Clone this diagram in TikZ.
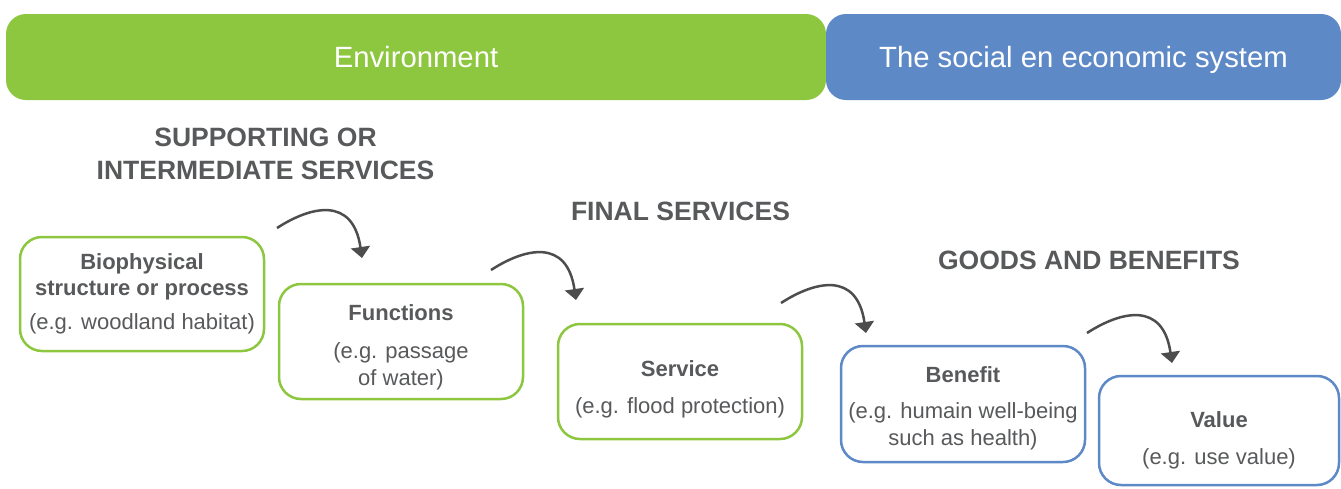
\documentclass[tikz,border=0pt]{standalone}
\usepackage{fontspec}
\setmainfont{Liberation Sans}
\usetikzlibrary{arrows.meta}
\definecolor{envgreen}{HTML}{8DC63F}
\definecolor{socblue}{HTML}{5D89C7}
\definecolor{txtgray}{HTML}{58595B}
\definecolor{arrgray}{HTML}{4D4D4D}
\begin{document}
\begin{tikzpicture}[x=1pt,y=-1pt,
  banner/.style={rounded corners=20pt, text=white, font=\fontsize{29.3}{34}\selectfont, inner sep=0pt, minimum height=86pt, text height=21pt, text depth=0pt},
  heading/.style={text=txtgray, font=\bfseries\fontsize{26.5}{33}\selectfont, align=center, inner sep=0pt},
  box/.style={draw, line width=2.5pt, rounded corners=22pt, fill=white, text=txtgray, align=center, font=\fontsize{22}{27}\selectfont, inner sep=0pt},
  greenbox/.style={box, draw=envgreen},
  bluebox/.style={box, draw=socblue},
  flow/.style={draw=arrgray, line width=2.5pt, -{Triangle[width=19pt,length=11pt]}}
]
\useasboundingbox (0,0) rectangle (1341,488);
% banners
\node[banner, fill=envgreen, minimum width=820pt] (env) at (416,57) {Environment};
\node[banner, fill=socblue, minimum width=515pt] (soc) at (1083.5,57) {The social en economic system};
% headings
\node[heading] (h1) at (265.5,154) {SUPPORTING OR\\INTERMEDIATE SERVICES};
\node[heading] (h2) at (680.5,211) {FINAL SERVICES};
\node[heading] (h3) at (1089,260) {GOODS AND BENEFITS};
% boxes
\node[greenbox, minimum width=244pt, minimum height=114pt] (b1) at (142,294)
  {\textbf{Biophysical}\\[-1pt]\textbf{structure or process}\\[7pt](e.g. woodland habitat)};
\node[greenbox, minimum width=244pt, minimum height=115pt] (b2) at (401,341.5)
  {\rule{0pt}{27.5pt}\textbf{Functions}\\[11pt](e.g. passage\\of water)};
\node[greenbox, minimum width=244pt, minimum height=115pt] (b3) at (680,381.5)
  {\rule{0pt}{31.5pt}\textbf{Service}\\[10pt](e.g. flood protection)};
\node[bluebox, minimum width=244pt, minimum height=116pt] (b4) at (963,404)
  {\rule{0pt}{25.5pt}\textbf{Benefit}\\[9pt](e.g. humain well-being\\such as health)};
\node[bluebox, minimum width=240pt, minimum height=109pt] (b5) at (1219,430.5)
  {\rule{0pt}{35.5pt}\textbf{Value}\\[10pt](e.g. use value)};
% arrows
\coordinate (a1s) at (277,228);  \coordinate (a1e) at (362,258);
\coordinate (a2s) at (491,270);  \coordinate (a2e) at (576,300);
\coordinate (a3s) at (781,303);  \coordinate (a3e) at (866,333);
\coordinate (a4s) at (1087,333); \coordinate (a4e) at (1172,363);
\draw[flow] (a1s) .. controls +(34,-22) and +(-9,-62) .. (a1e);
\draw[flow] (a2s) .. controls +(34,-22) and +(-9,-62) .. (a2e);
\draw[flow] (a3s) .. controls +(34,-22) and +(-9,-62) .. (a3e);
\draw[flow] (a4s) .. controls +(34,-22) and +(-9,-62) .. (a4e);
\end{tikzpicture}
\end{document}
